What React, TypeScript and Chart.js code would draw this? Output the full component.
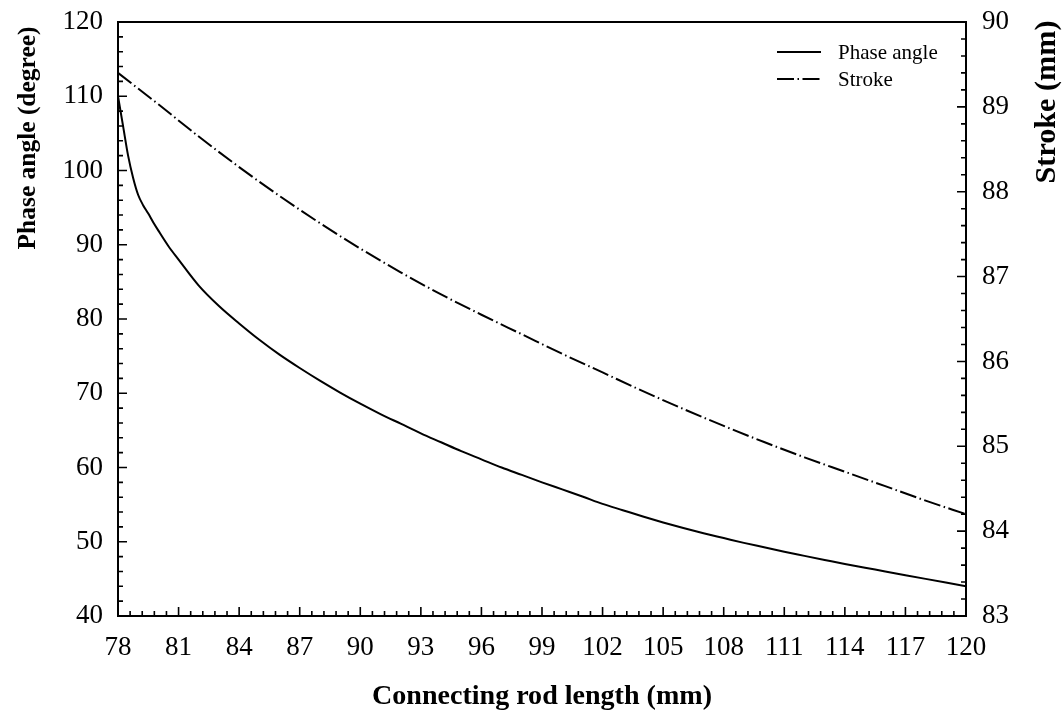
import React, { useEffect, useRef } from "react";
import { Chart, registerables } from "chart.js";

Chart.register(...registerables);

// ---- Data ----
const phaseRodLength = [
  78, 78.25, 78.5, 78.75, 79, 79.25, 79.5, 79.75, 80, 80.5, 81, 82, 83, 84, 85, 86, 87, 88, 89, 90,
  91, 92, 93, 94, 95, 96, 97, 98, 99, 100, 101, 102, 103, 104, 105, 106, 107, 108, 109, 110,
  111, 112, 113, 114, 115, 116, 117, 118, 119, 120,
];
const phaseAngle = [
  110.0, 106.0, 102.0, 99.0, 96.7, 95.3, 94.2, 93.0, 91.9, 89.8, 88.0, 84.5, 81.75, 79.4, 77.2, 75.2, 73.4, 71.7, 70.1, 68.6,
  67.2, 65.9, 64.6, 63.4, 62.2, 61.1, 60.0, 59.0, 58.0, 57.05, 56.1, 55.1, 54.25, 53.4, 52.6, 51.85, 51.15, 50.5, 49.85, 49.25,
  48.65, 48.1, 47.55, 47.0, 46.5, 46.0, 45.5, 45.0, 44.5, 44.0,
];
const strokeRodLength = [
  78, 80, 82, 84, 86, 88, 90, 92, 94, 96, 98, 100, 102, 104, 106, 108, 110, 112, 114, 116, 118, 120,
];
const strokeValues = [
  89.4, 89.03, 88.65, 88.29, 87.95, 87.63, 87.33, 87.05, 86.79, 86.55, 86.32, 86.09, 85.87, 85.65,
  85.44, 85.24, 85.05, 84.87, 84.7, 84.53, 84.36, 84.2,
];
const seriesLabels = ["Phase angle", "Stroke"];
const axisTitles = {
  x: "Connecting rod length (mm)",
  y: "Phase angle (degree)",
  y2: "Stroke (mm)",
};
const xRange = { min: 78, max: 120, step: 3, minorStep: 0.6 };
const yRange = { min: 40, max: 120, step: 10, minorStep: 2 };
const y2Range = { min: 83, max: 90, step: 1, minorStep: 0.2 };

const SERIF = '"Liberation Serif", "Times New Roman", serif';

function fitText(ctx: CanvasRenderingContext2D, text: string, target: number, weight: string) {
  ctx.font = `${weight} 20px ${SERIF}`;
  const w = ctx.measureText(text).width;
  const size = (20 * target) / w;
  ctx.font = `${weight} ${size}px ${SERIF}`;
}

const decorPlugin = {
  id: "decor",
  afterDraw(chart: any) {
    const ctx: CanvasRenderingContext2D = chart.ctx;
    const { left, right, top, bottom } = chart.chartArea;
    const xs = chart.scales.x;
    const ys = chart.scales.y;
    const y2s = chart.scales.y2;
    ctx.save();
    ctx.strokeStyle = "#000";
    ctx.lineWidth = 2;
    ctx.lineCap = "butt";
    // box
    ctx.strokeRect(left, top, right - left, bottom - top);

    const eps = 1e-6;
    ctx.lineWidth = 1.6;
    ctx.beginPath();
    // x ticks (bottom, inward)
    const nX = Math.round((xRange.max - xRange.min) / xRange.minorStep);
    for (let i = 0; i <= nX; i++) {
      const v = xRange.min + i * xRange.minorStep;
      const r = (v - xRange.min) / xRange.step;
      const major = Math.abs(r - Math.round(r)) < eps;
      const px = xs.getPixelForValue(v);
      const len = major ? 9 : 5;
      ctx.moveTo(px, bottom);
      ctx.lineTo(px, bottom - len);
    }
    // left y ticks
    const nY = Math.round((yRange.max - yRange.min) / yRange.minorStep);
    for (let i = 0; i <= nY; i++) {
      const v = yRange.min + i * yRange.minorStep;
      const r = (v - yRange.min) / yRange.step;
      const major = Math.abs(r - Math.round(r)) < eps;
      const py = ys.getPixelForValue(v);
      const len = major ? 9 : 5;
      ctx.moveTo(left, py);
      ctx.lineTo(left + len, py);
    }
    // right y ticks
    const nY2 = Math.round((y2Range.max - y2Range.min) / y2Range.minorStep);
    for (let i = 0; i <= nY2; i++) {
      const v = y2Range.min + i * y2Range.minorStep;
      const r = (v - y2Range.min) / y2Range.step;
      const major = Math.abs(r - Math.round(r)) < eps;
      const py = y2s.getPixelForValue(v);
      const len = major ? 9 : 5;
      ctx.moveTo(right, py);
      ctx.lineTo(right - len, py);
    }
    ctx.stroke();

    // titles
    ctx.fillStyle = "#000";
    ctx.textAlign = "center";
    ctx.textBaseline = "middle";
    fitText(ctx, axisTitles.x, 340, "bold");
    ctx.fillText(axisTitles.x, (left + right) / 2, 697);

    ctx.save();
    ctx.translate(28, 138);
    ctx.rotate(-Math.PI / 2);
    fitText(ctx, axisTitles.y, 223, "bold");
    ctx.fillText(axisTitles.y, 0, 0);
    ctx.restore();

    ctx.save();
    ctx.translate(1047, 102);
    ctx.rotate(-Math.PI / 2);
    fitText(ctx, axisTitles.y2, 163, "bold");
    ctx.fillText(axisTitles.y2, 0, 0);
    ctx.restore();

    // legend
    const ds = chart.data.datasets;
    const legendY = [52, 79];
    ctx.textAlign = "left";
    ctx.font = `21px ${SERIF}`;
    ds.forEach((d: any, i: number) => {
      ctx.save();
      ctx.strokeStyle = d.borderColor;
      ctx.lineWidth = d.borderWidth;
      ctx.setLineDash(d.borderDash || []);
      ctx.beginPath();
      ctx.moveTo(777, legendY[i]);
      ctx.lineTo(821, legendY[i]);
      ctx.stroke();
      ctx.restore();
      ctx.fillText(d.label, 838, legendY[i] + 1);
    });
    ctx.restore();
  },
};

export default function App() {
  const ref = useRef<HTMLCanvasElement | null>(null);
  useEffect(() => {
    if (!ref.current) return;
    const chart = new Chart(ref.current, {
      type: "line",
      data: {
        datasets: [
          {
            label: seriesLabels[0],
            data: phaseRodLength.map((x, i) => ({ x, y: phaseAngle[i] })),
            borderColor: "#000",
            borderWidth: 2,
            pointRadius: 0,
            cubicInterpolationMode: "monotone",
            yAxisID: "y",
            fill: false,
          },
          {
            label: seriesLabels[1],
            data: strokeRodLength.map((x, i) => ({ x, y: strokeValues[i] })),
            borderColor: "#000",
            borderWidth: 2,
            borderDash: [17, 3.5, 1.5, 3.5],
            pointRadius: 0,
            cubicInterpolationMode: "monotone",
            yAxisID: "y2",
            fill: false,
          },
        ],
      },
      options: {
        responsive: false,
        animation: false,
        events: [],
        layout: { padding: { top: 22, left: 0, right: 0, bottom: 0 } },
        plugins: { legend: { display: false }, tooltip: { enabled: false }, title: { display: false } },
        scales: {
          x: {
            type: "linear",
            min: xRange.min,
            max: xRange.max,
            grid: { display: false, drawTicks: false },
            border: { display: false },
            ticks: {
              stepSize: xRange.step,
              padding: 16,
              color: "#000",
              maxRotation: 0,
              autoSkip: false,
              font: { family: SERIF, size: 27 },
            },
            afterFit(scale: any) {
              scale.height = 101;
              scale.paddingLeft = 0;
              scale.paddingRight = 0;
            },
          },
          y: {
            type: "linear",
            position: "left",
            min: yRange.min,
            max: yRange.max,
            grid: { display: false, drawTicks: false },
            border: { display: false },
            ticks: {
              stepSize: yRange.step,
              padding: 15,
              color: "#000",
              font: { family: SERIF, size: 27 },
            },
            afterFit(scale: any) {
              scale.width = 118;
              scale.paddingTop = 0;
              scale.paddingBottom = 0;
            },
          },
          y2: {
            type: "linear",
            position: "right",
            min: y2Range.min,
            max: y2Range.max,
            grid: { display: false, drawTicks: false },
            border: { display: false },
            ticks: {
              stepSize: y2Range.step,
              padding: 16,
              color: "#000",
              font: { family: SERIF, size: 27 },
            },
            afterFit(scale: any) {
              scale.width = 98;
              scale.paddingTop = 0;
              scale.paddingBottom = 0;
            },
          },
        },
      },
      plugins: [decorPlugin],
    } as any);
    return () => chart.destroy();
  }, []);
  return (
    <div style={{ position: "fixed", left: 0, top: 0, width: 1064, height: 717, background: "#fff" }}>
      <canvas ref={ref} width={1064} height={717} style={{ display: "block", width: 1064, height: 717 }} />
    </div>
  );
}
